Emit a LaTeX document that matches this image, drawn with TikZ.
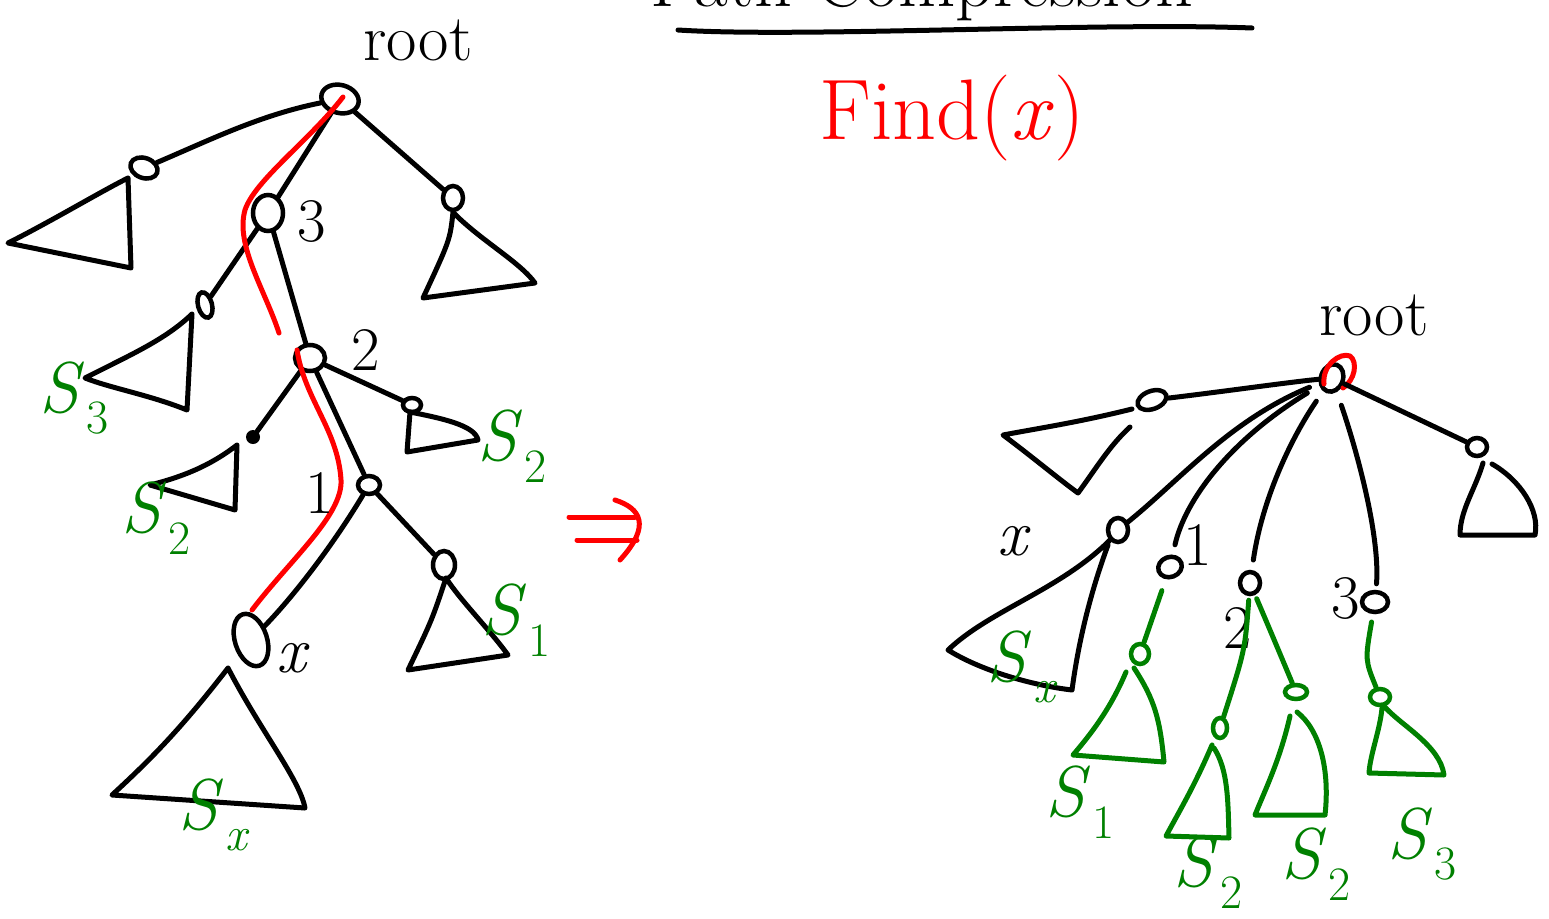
\documentclass[tikz,border=0pt]{standalone}
\usetikzlibrary{shapes.geometric}
\definecolor{inkgreen}{RGB}{0,128,0}
\definecolor{inkred}{RGB}{255,0,0}
\newcommand\hwsize[1]{\fontsize{#1}{#1}\selectfont}
\newcommand\Slab[1]{\textit{S}\kern2pt\raisebox{-0.3em}{\hwsize{48}#1}}
\begin{document}
\begin{tikzpicture}[x=1pt,y=-1pt,
  ink/.style={line width=5pt,line cap=round,line join=round},
  gink/.style={ink,draw=inkgreen},
  rink/.style={ink,draw=inkred},
  vtx/.style={draw,ellipse,line width=4.5pt,inner sep=0pt},
  gvtx/.style={vtx,draw=inkgreen},
  lbl/.style={inner sep=0pt,font=\hwsize{62}},
  glbl/.style={inner sep=0pt,text=inkgreen,font=\hwsize{72}},
]
\useasboundingbox (0,0) rectangle (1549,918);

% title (cut off at the top)
\node[anchor=base west,inner sep=0pt,font=\hwsize{74}] (title) at (650,6) {Path Compression};
\coordinate (ul1) at (678,30);
\coordinate (ul2) at (1252,28);
\draw[ink] (ul1) .. controls (800,38) and (1100,22) .. (ul2);

\node[anchor=center,inner sep=0pt,text=inkred,font=\hwsize{86}] (find) at (952,118) {Find(\textit{x})};

% ===== left tree =====
\node[vtx,minimum width=38pt,minimum height=28pt,rotate=-15] (r) at (340,99) {};
\node[vtx,minimum width=28pt,minimum height=20pt,rotate=-20] (a) at (144,168) {};
\node[vtx,minimum width=20pt,minimum height=24pt] (b) at (453,198) {};
\node[vtx,minimum width=30pt,minimum height=36pt] (n3) at (268,213) {};
\node[vtx,minimum width=14pt,minimum height=26pt,rotate=15] (c) at (205,305) {};
\node[vtx,minimum width=30pt,minimum height=26pt] (n2) at (310,358) {};
\node[vtx,minimum width=18pt,minimum height=14pt] (d) at (412,405) {};
\node[fill,circle,minimum size=14pt,inner sep=0pt] (e) at (253,437) {};
\node[vtx,minimum width=22pt,minimum height=18pt] (n1) at (369,485) {};
\node[vtx,minimum width=22pt,minimum height=28pt] (f) at (444,565) {};
\node[vtx,minimum width=32pt,minimum height=54pt,rotate=18] (xl) at (251,640) {};

\draw[ink] (r) .. controls (260,115) and (210,140) .. (a);
\draw[ink] (r) -- (b);
\draw[ink] (r) -- (n3);
\draw[ink] (n3) -- (c);
\draw[ink] (n3) -- (n2);
\draw[ink] (n2) -- (d);
\draw[ink] (n2) -- (e);
\draw[ink] (n2) -- (n1);
\draw[ink] (n1) -- (f);
\draw[ink] (n1) .. controls (330,550) and (290,600) .. (xl);

% subtrees (left)
\draw[ink] (128,178) -- (131,268) -- (8,243) .. controls (50,222) and (100,192) .. (128,178);
\draw[ink] (b.south) .. controls (450,240) .. (423,298) -- (535,283) .. controls (520,262) and (480,240) .. (b.south);
\draw[ink] (192,314) -- (187,410) .. controls (150,395) and (110,388) .. (85,378) .. controls (130,355) and (165,340) .. (192,314);
\draw[ink] (410,412) -- (407,452) -- (478,440) .. controls (475,425) and (440,418) .. (410,412);
\draw[ink] (237,445) -- (235,510) -- (150,485) .. controls (190,475) and (215,462) .. (237,445);
\draw[ink] (446,578) .. controls (432,620) .. (408,670) -- (508,655) .. controls (490,630) and (460,600) .. (446,578);
\draw[ink] (228,668) .. controls (180,730) and (150,760) .. (112,795) -- (305,808) .. controls (300,780) and (260,730) .. (228,668);

% red find path
\draw[rink] (343,97) .. controls (310,140) and (255,180) .. (245,210) .. controls (235,245) and (265,290) .. (279,333);
\draw[rink] (297,350) .. controls (305,400) and (338,430) .. (341,480) .. controls (343,515) and (290,560) .. (252,610);

% labels (left)
\node[lbl,font=\hwsize{66}] (lroot) at (418,40) {root};
\node[lbl] (l3) at (312,222) {3};
\node[lbl] (l2) at (366,350) {2};
\node[lbl] (l1) at (320,493) {1};
\node[lbl,font=\hwsize{66}] (lx) at (293,658) {\textit{x}};
\node[glbl] (ls3) at (74,398) {\Slab{3}};
\node[glbl] (ls2r) at (512,446) {\Slab{2}};
\node[glbl] (ls2l) at (156,518) {\Slab{2}};
\node[glbl] (ls1) at (516,620) {\Slab{1}};
\node[glbl] (lsx) at (214,815) {\Slab{\textit{x}}};

% double arrow
\coordinate (ar1) at (569,517);
\coordinate (ar2) at (635,517);
\coordinate (ar3) at (577,540);
\coordinate (ar4) at (637,540);
\draw[rink] (ar1) -- (ar2);
\draw[rink] (ar3) -- (ar4);
\draw[rink] (615,500) .. controls (640,508) and (652,525) .. (620,560);

% ===== right tree =====
\node[vtx,minimum width=22pt,minimum height=28pt,rotate=-20] (R) at (1332,378) {};
\draw[rink] (1324,384) .. controls (1322,365) and (1340,352) .. (1350,356) .. controls (1358,362) and (1355,380) .. (1343,388);
\node[vtx,minimum width=30pt,minimum height=18pt,rotate=20] (G) at (1152,400) {};
\node[vtx,minimum width=20pt,minimum height=18pt] (H) at (1477,447) {};
\node[vtx,minimum width=20pt,minimum height=24pt] (X) at (1118,530) {};
\node[vtx,minimum width=24pt,minimum height=20pt,rotate=20] (N1) at (1170,567) {};
\node[vtx,minimum width=20pt,minimum height=22pt] (N2) at (1250,583) {};
\node[vtx,minimum width=26pt,minimum height=20pt] (N3) at (1375,602) {};

\draw[ink] (R) .. controls (1290,382) and (1220,392) .. (G);
\draw[ink] (R) -- (H);
\draw[ink,shorten <=10pt] (R) .. controls (1230,420) and (1180,480) .. (X);
\draw[ink,shorten <=14pt,shorten >=10pt] (R) .. controls (1230,440) and (1185,500) .. (N1);
\draw[ink,shorten <=12pt,shorten >=10pt] (R) .. controls (1290,440) and (1262,500) .. (N2);
\draw[ink,shorten <=14pt,shorten >=6pt] (R) .. controls (1360,460) and (1380,540) .. (N3);

\draw[ink] (1132,409) .. controls (1080,422) and (1040,428) .. (1003,435) .. controls (1030,455) and (1060,480) .. (1078,493) .. controls (1095,470) and (1110,445) .. (1130,427);
\draw[ink] (1483,463) .. controls (1475,490) and (1460,510) .. (1460,535) -- (1535,535) .. controls (1540,510) and (1520,480) .. (1492,464);
\draw[ink] (1110,540) .. controls (1060,590) and (990,610) .. (948,650) .. controls (980,670) and (1030,685) .. (1072,690) .. controls (1080,630) and (1095,580) .. (1108,545);

\node[lbl,font=\hwsize{66}] (rx) at (1014,541) {\textit{x}};
\node[lbl] (r1) at (1198,545) {1};
\node[lbl] (r2) at (1238,628) {2};
\node[lbl] (r3) at (1346,598) {3};
\node[lbl,font=\hwsize{66}] (rroot) at (1374,315) {root};

% green subtrees
\node[gvtx,minimum width=18pt,minimum height=20pt] (g1) at (1140,654) {};
\node[gvtx,minimum width=14pt,minimum height=20pt] (g2a) at (1220,728) {};
\node[gvtx,minimum width=22pt,minimum height=14pt] (g2b) at (1296,692) {};
\node[gvtx,minimum width=20pt,minimum height=16pt] (g3) at (1380,697) {};

\draw[gink,shorten <=12pt] (N1) -- (g1);
\draw[gink,shorten <=4pt] (N2) .. controls (1245,650) .. (g2a);
\draw[gink,shorten <=4pt] (N2) .. controls (1270,630) .. (g2b);
\draw[gink,shorten <=8pt] (N3) .. controls (1365,660) .. (g3);

\draw[gink] (1126,672) .. controls (1110,710) and (1090,735) .. (1073,755) -- (1164,762) .. controls (1160,720) and (1155,700) .. (1134,668);
\draw[gink] (1212,745) .. controls (1195,785) and (1180,810) .. (1166,836) -- (1229,838) .. controls (1228,800) and (1228,770) .. (1214,748);
\draw[gink] (1290,716) .. controls (1280,760) and (1265,790) .. (1255,815) -- (1325,815) .. controls (1330,770) and (1320,730) .. (1297,712);
\draw[gink] (1382,708) .. controls (1380,730) and (1370,755) .. (1369,773) -- (1444,775) .. controls (1440,745) and (1400,725) .. (1384,706);

\node[glbl] (rsx) at (1022,667) {\Slab{\textit{x}}};
\node[glbl] (rs1) at (1080,802) {\Slab{1}};
\node[glbl] (rs2a) at (1208,872) {\Slab{2}};
\node[glbl] (rs2b) at (1316,864) {\Slab{2}};
\node[glbl] (rs3) at (1422,844) {\Slab{3}};
\end{tikzpicture}
\end{document}
